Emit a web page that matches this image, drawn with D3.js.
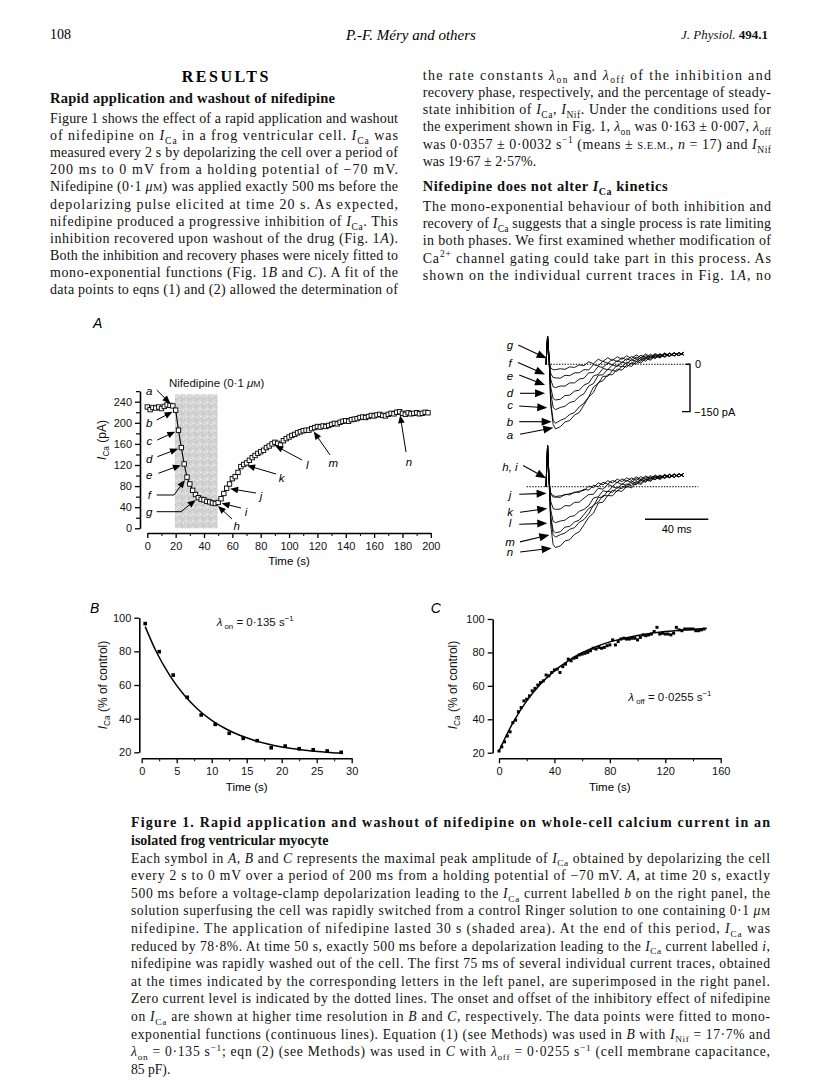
<!DOCTYPE html>
<html><head><meta charset="utf-8">
<script src="https://cdn.jsdelivr.net/npm/d3@7"></script>
<style>body{margin:0;background:#fff}svg{display:block}</style>
</head><body>
<svg id="page" width="816" height="1088"></svg>
<script>
// ---------------- DATA ----------------
const currentA = [230,225,229,228,230,227,231,234,233,232,
  224,186,153,122,97,84,72,64,58,55,54,51,50,48,47,
  49,56,66,76,84,94,98,106,117,121,124,129,134,138,142,145,148,153,156,160,163,161,158,166,170,
  173,176,178,181,183,185,186,186,189,191,193,192,194,193,195,197,199,198,201,203,204,203,206,207,208,
  210,211,210,212,214,213,215,216,214,213,216,218,217,220,221,218,216,219,217,218,219,217,218,220,219];
const timeA = d3.range(0, 200, 2);
const nifedipinePeriod = [19.5, 49.5];
const yTicksA = [0,40,80,120,160,200,240];
const xTicksA = [0,20,40,60,80,100,120,140,160,180,200];
const lettersA = ['a','b','c','d','e','f','g','h','i','j','k','l','m','n'];
const letterTimesA = [18,20,22,24,26,28,36,48,50,56,68,88,116,178];

const timeB = [0.5,2.5,4.5,6.5,8.5,10.5,12.5,14.5,16.5,18.5,20.5,22.5,24.5,26.5,28.5];
const valueB = [96.5,79.8,65.9,52.7,42.2,36.6,31.3,28.3,26.9,22.7,23.7,22.1,21.5,20.8,20];
const fitTimeB = [0.5,2,4,6,8,10,12,14,16,18,20,22,24,26,28,28.5];
const fitValueB = [94.7,80.5,65.7,54.3,45.6,39.0,34.0,30.1,27.2,24.9,23.2,21.9,20.9,20.2,19.6,19.5];
const xTicksB = [0,5,10,15,20,25,30];
const yTicksBC = [20,40,60,80,100];

const timeC = d3.range(0, 150, 2);
const valueC = [21,23.5,26.5,30,32.5,38,39.5,44.5,47,51,52,54,57,58.5,60.5,62,63,66.5,66,68,69.5,70,68,71.5,73,76,75,76.5,77,78.5,
  79,79.5,80,81,82.5,82,83,82.5,83,84,84.5,87.5,84.5,86.5,88,88.5,88,88,88.5,88.5,87.5,89,90.5,90,90.5,91,92.5,95,91,91.5,
  91,91,90.5,91.5,95,93.5,93,94,94,94,94,93,93,93.5,94];
const fitTimeC = [0,10,20,30,40,50,60,70,80,90,100,110,120,130,140,150];
const fitValueC = [21,37.9,51.0,61.1,69.0,75.0,79.8,83.4,86.3,88.4,90.1,91.5,92.5,93.3,93.9,94.4];
const xTicksC = [0,40,80,120,160];

const traceTimes = [0,1,2,3,4.5,6,9,12,15,18,21,24,27,30,33,36,39,42,45,48,51,54,57,60,63,66,69,72,75,78,81,84,87];
const tracesTop = {
  a:[0,88,12,-130,-190,-205,-198,-183,-178,-161,-153,-129, -104,-89,-58,-52,-33,-33,-15,-19,-2,-7,9,4,19,13,27,20,32,25,36,28,38],
  b:[0,88,12,-120,-177,-187,-178,-172,-159,-153,-135,-123, -103,-72,-61,-38,-38,-20,-22,-6,-9,5,1,16,10,24,18,30,22,34,26,37,29],
  c:[0,88,12,-92,-136,-144,-137,-133,-121,-117,-102,-93, -69,-61,-35,-33,-16,-19,-3,-8,7,1,16,10,23,16,29,21,33,25,36,27,38],
  d:[0,88,12,-73,-108,-113,-111,-99,-98,-85,-82,-66, -59,-37,-32,-13,-17,-2,-7,8,2,15,9,22,16,28,21,32,24,35,27,37,29],
  e:[0,88,12,-48,-71,-74,-69,-69,-59,-59,-47,-44, -27,-26,-7,-10,4,-2,12,5,18,11,23,16,28,20,32,23,35,25,37,27,38],
  f:[0,88,12,-29,-42,-43,-44,-35,-36,-27,-27,-17, -18,-1,-5,10,3,16,8,21,13,25,17,29,21,32,23,34,25,36,27,37,29],
  g:[0,88,12,-12,-17,-17,-14,-16,-8,-10,-2,-4, 8,2,16,9,21,12,24,16,27,18,30,21,33,23,34,25,36,26,37,27,38]
};
const tracesBottom = {
  h:[0,130,15,-20,-28,-31,-29,-26,-22,-19,-14,-12, 2,-3,12,6,19,12,24,16,28,20,31,23,34,26,37,28,39,30,41,31,42],
  i:[0,130,15,-22,-33,-33,-34,-24,-26,-17,-18,-8, -11,5,0,14,8,20,13,25,17,28,20,32,23,35,27,37,28,40,30,41,32],
  j:[0,130,15,-47,-69,-72,-71,-60,-61,-50,-49,-36, -25,-24,-5,-8,7,1,14,7,20,13,26,18,31,23,35,26,38,29,40,31,42],
  k:[0,130,15,-74,-110,-114,-109,-106,-95,-92,-78,-72, -60,-36,-32,-13,-16,0,-5,9,4,17,11,24,17,31,23,35,27,39,29,41,32],
  l:[0,130,15,-94,-139,-146,-143,-128,-126,-112,-106,-88, -69,-61,-34,-33,-14,-18,-2,-6,9,3,17,11,25,19,32,24,36,29,39,31,42],
  m:[0,130,15,-103,-152,-160,-152,-147,-135,-130,-113,-104, -86,-58,-49,-28,-29,-11,-15,1,-3,11,6,20,14,28,22,34,26,38,29,41,32],
  n:[0,130,15,-124,-183,-193,-188,-172,-168,-151,-143,-121, -97,-84,-52,-49,-28,-29,-12,-15,2,-4,12,7,22,17,30,23,35,28,39,31,42]
};
const topArrows = [
  {lab:'g', tail:[-17.5,61], tip:[0.4,19]},
  {lab:'f', tail:[-17.7,6], tip:[-0.6,-32]},
  {lab:'e', tail:[-16.9,-34], tip:[-0.6,-66]},
  {lab:'d', tail:[-16.4,-92], tip:[-0.6,-92]},
  {lab:'c', tail:[-16.9,-132], tip:[0.8,-138]},
  {lab:'b', tail:[-16.9,-182], tip:[3.6,-182]},
  {lab:'a', tail:[-16.4,-222], tip:[4.6,-201]}
];
const topLabelY = {g:61,f:4,e:-38,d:-92,c:-129,b:-184,a:-224};
const bottomArrows = [
  {lab:'h, i', tail:[-14.5,67], tip:[0,27]},
  {lab:'j', tail:[-16.9,-24], tip:[0.4,-21]},
  {lab:'k', tail:[-16.4,-81], tip:[0.8,-69]},
  {lab:'l', tail:[-16.9,-119], tip:[0.8,-116]},
  {lab:'m', tail:[-16.4,-175], tip:[2.1,-153]},
  {lab:'n', tail:[-16.4,-207], tip:[3.6,-195]}
];
const bottomLabelY = {'h, i':63,j:-27,k:-81,l:-116,m:-175,n:-207};

// ---------------- TEXT ----------------
const headerLeft = '108';
const headerCenter = 'P.-F. Méry and others';
const col1Lines = [
  'Figure 1 shows the effect of a rapid application and washout',
  'of nifedipine on <i>I</i><sub>Ca</sub> in a frog ventricular cell. <i>I</i><sub>Ca</sub> was',
  'measured every 2 s by depolarizing the cell over a period of',
  '200 ms to 0 mV from a holding potential of −70 mV.',
  'Nifedipine (0·1 <i>μ</i><sc>M</sc>) was applied exactly 500 ms before the',
  'depolarizing pulse elicited at time 20 s. As expected,',
  'nifedipine produced a progressive inhibition of <i>I</i><sub>Ca</sub>. This',
  'inhibition recovered upon washout of the drug (Fig. 1<i>A</i>).',
  'Both the inhibition and recovery phases were nicely fitted to',
  'mono-exponential functions (Fig. 1<i>B</i> and <i>C</i>). A fit of the',
  'data points to eqns (1) and (2) allowed the determination of'
];
const col2LinesA = [
  'the rate constants <i>λ</i><sub>on</sub> and <i>λ</i><sub>off</sub> of the inhibition and',
  'recovery phase, respectively, and the percentage of steady-',
  'state inhibition of <i>I</i><sub>Ca</sub>, <i>I</i><sub>Nif</sub>. Under the conditions used for',
  'the experiment shown in Fig. 1, <i>λ</i><sub>on</sub> was 0·163 ± 0·007, <i>λ</i><sub>off</sub>',
  'was 0·0357 ± 0·0032 s<sup>−1</sup> (means ± <sc>S.E.M.</sc>, <i>n</i> = 17) and <i>I</i><sub>Nif</sub>',
  'was 19·67 ± 2·57%.'
];
const col2LinesB = [
  'The mono-exponential behaviour of both inhibition and',
  'recovery of <i>I</i><sub>Ca</sub> suggests that a single process is rate limiting',
  'in both phases. We first examined whether modification of',
  'Ca<sup>2+</sup> channel gating could take part in this process. As',
  'shown on the individual current traces in Fig. 1<i>A</i>, no'
];
const captionTitle = [
  'Figure 1. Rapid application and washout of nifedipine on whole-cell calcium current in an',
  'isolated frog ventricular myocyte'
];
const captionLines = [
  'Each symbol in <i>A</i>, <i>B</i> and <i>C</i> represents the maximal peak amplitude of <i>I</i><sub>Ca</sub> obtained by depolarizing the cell',
  'every 2 s to 0 mV over a period of 200 ms from a holding potential of −70 mV. <i>A</i>, at time 20 s, exactly',
  '500 ms before a voltage-clamp depolarization leading to the <i>I</i><sub>Ca</sub> current labelled <i>b</i> on the right panel, the',
  'solution superfusing the cell was rapidly switched from a control Ringer solution to one containing 0·1 <i>μ</i><sc>M</sc>',
  'nifedipine. The application of nifedipine lasted 30 s (shaded area). At the end of this period, <i>I</i><sub>Ca</sub> was',
  'reduced by 78·8%. At time 50 s, exactly 500 ms before a depolarization leading to the <i>I</i><sub>Ca</sub> current labelled <i>i</i>,',
  'nifedipine was rapidly washed out of the cell. The first 75 ms of several individual current traces, obtained',
  'at the times indicated by the corresponding letters in the left panel, are superimposed in the right panel.',
  'Zero current level is indicated by the dotted lines. The onset and offset of the inhibitory effect of nifedipine',
  'on <i>I</i><sub>Ca</sub> are shown at higher time resolution in <i>B</i> and <i>C</i>, respectively. The data points were fitted to mono-',
  'exponential functions (continuous lines). Equation (1) (see Methods) was used in <i>B</i> with <i>I</i><sub>Nif</sub> = 17·7% and',
  '<i>λ</i><sub>on</sub> = 0·135 s<sup>−1</sup>; eqn (2) (see Methods) was used in <i>C</i> with <i>λ</i><sub>off</sub> = 0·0255 s<sup>−1</sup> (cell membrane capacitance,',
  '85 pF).'
];

// ---------------- HELPERS ----------------
const SERIF = "'Liberation Serif','Times New Roman',serif";
const SANS = "'Liberation Sans',Arial,Helvetica,sans-serif";
const svg = d3.select('#page');
svg.append('rect').attr('width',816).attr('height',1088).attr('fill','#fff');

function rich(parent, x, y, str, o) {
  const size = o.size;
  const t = parent.append('text').attr('x', x).attr('y', y)
    .attr('font-family', o.family).attr('font-size', size).attr('fill', o.fill || '#111');
  if (o.weight) t.attr('font-weight', o.weight);
  if (o.style) t.attr('font-style', o.style);
  if (o.anchor) t.attr('text-anchor', o.anchor);
  if (o.transform) t.attr('transform', o.transform);
  const parts = str.split(/(<\/?(?:i|b|sub|sup|sc)>)/);
  const st = {i:false,b:false,sub:false,sup:false,sc:false};
  let shift = 0;
  parts.forEach(p => {
    if (!p) return;
    const m = p.match(/^<(\/?)(i|b|sub|sup|sc)>$/);
    if (m) { st[m[2]] = !m[1]; return; }
    const target = st.sub ? size*0.28 : st.sup ? -size*0.38 : 0;
    const ts = t.append('tspan').text(p);
    if (Math.abs(target - shift) > 0.01) { ts.attr('dy', target - shift); shift = target; }
    if (st.i) ts.attr('font-style','italic');
    if (st.b) ts.attr('font-weight','bold');
    if (st.sub || st.sup) ts.attr('font-size', size*0.68);
    else if (st.sc) ts.attr('font-size', size*0.75);
  });
  if (o.width) t.attr('textLength', o.width).attr('lengthAdjust','spacing');
  return t;
}

function arrow(g, pts, headLen, headW, sw) {
  const n = pts.length;
  const [x2,y2] = pts[n-1], [x1,y1] = pts[n-2];
  const dx = x2-x1, dy = y2-y1, L = Math.hypot(dx,dy), ux = dx/L, uy = dy/L;
  const bx = x2-ux*headLen, by = y2-uy*headLen;
  const lp = pts.slice(0,n-1).concat([[bx+ux*1,by+uy*1]]);
  g.append('path').attr('d', d3.line()(lp)).attr('fill','none').attr('stroke','#000').attr('stroke-width',sw);
  g.append('path').attr('d', `M${x2},${y2}L${bx-uy*headW},${by+ux*headW}L${bx+uy*headW},${by-ux*headW}Z`).attr('fill','#000');
}

function styleAxis(g) {
  g.select('.domain').attr('stroke','#000').attr('stroke-width',1.6);
  g.selectAll('.tick line').attr('stroke','#000').attr('stroke-width',1.3);
  g.selectAll('.tick text').attr('font-family',SANS).attr('font-size',11).attr('fill','#111');
}

// ---------------- PAGE TEXT ----------------
svg.append('text').attr('x',50).attr('y',39).attr('font-family',SERIF).attr('font-size',14).text(headerLeft);
svg.append('text').attr('x',411).attr('y',40).attr('text-anchor','middle').attr('font-family',SERIF)
  .attr('font-size',15).attr('font-style','italic').text(headerCenter);
rich(svg, 768, 39, '<i>J. Physiol.</i> <b>494.1</b>', {family:SERIF, size:13, anchor:'end'});

svg.append('text').attr('x',181.7).attr('y',82).attr('font-family',SERIF).attr('font-size',16)
  .attr('font-weight','bold').attr('textLength',86.6).attr('lengthAdjust','spacing').text('RESULTS');
rich(svg, 50, 103, '<b>Rapid application and washout of nifedipine</b>', {family:SERIF, size:14.5, width:285});

col1Lines.forEach((s,i) => rich(svg, 50, 122.8 + i*17.15, s, {family:SERIF, size:14, width:348}));
col2LinesA.forEach((s,i) => rich(svg, 422.7, 79.5 + i*17.3, s,
  {family:SERIF, size:14, width: i === col2LinesA.length-1 ? null : 348.3}));
rich(svg, 422.7, 191, '<b>Nifedipine does not alter </b><b><i>I</i></b><b><sub>Ca</sub></b><b> kinetics</b>',
  {family:SERIF, size:14.5, width:245});
col2LinesB.forEach((s,i) => rich(svg, 422.7, 210.5 + i*17.4, s, {family:SERIF, size:14, width:348.3}));

captionTitle.forEach((s,i) => rich(svg, 131, 826.5 + i*18, '<b>'+s+'</b>',
  {family:SERIF, size:14, width: i===0 ? 639 : null}));
captionLines.forEach((s,i) => rich(svg, 131, 862.5 + i*17.6, s,
  {family:SERIF, size:13.6, width: i === captionLines.length-1 ? null : 639}));

// ---------------- PANEL A ----------------
const gA = svg.append('g');
const xA = d3.scaleLinear().domain([0,200]).range([147.3,430.8]);
const yA = d3.scaleLinear().domain([0,260]).range([528.3,391.15]);

const defs = svg.append('defs');
const pat = defs.append('pattern').attr('id','stip').attr('width',7).attr('height',7).attr('patternUnits','userSpaceOnUse');
pat.append('rect').attr('width',7).attr('height',7).attr('fill','#d4d4d4');
[[0,0,'#b8b8b8'],[3,2,'#e9e9e9'],[5,5,'#bdbdbd'],[1,4,'#ededed'],[6,1,'#c4c4c4'],[2,6,'#c6c6c6'],[4,3,'#f2f2f2']]
  .forEach(([x,y,c]) => pat.append('rect').attr('x',x).attr('y',y).attr('width',1.2).attr('height',1.2).attr('fill',c));
gA.append('rect').attr('x',xA(nifedipinePeriod[0])).attr('width',xA(nifedipinePeriod[1])-xA(nifedipinePeriod[0]))
  .attr('y',yA(254)).attr('height',yA(0)-yA(254)).attr('fill','url(#stip)');

rich(gA, 169, 387, 'Nifedipine (0·1 <i>μ</i><sc>M</sc>)', {family:SANS, size:11.5});

const yAxA = gA.append('g').attr('transform','translate(140,0)')
  .call(d3.axisLeft(yA).tickValues(yTicksA).tickSize(5).tickSizeOuter(0).tickPadding(3));
styleAxis(yAxA);
gA.append('g').attr('transform','translate(140,0)')
  .call(d3.axisLeft(yA).tickValues(d3.range(20,261,40)).tickSize(4).tickFormat('').tickSizeOuter(0))
  .call(g => { g.select('.domain').remove(); g.selectAll('line').attr('stroke','#000').attr('stroke-width',1.2); });
const xAxA = gA.append('g').attr('transform','translate(0,533)')
  .call(d3.axisBottom(xA).tickValues(xTicksA).tickSize(5).tickSizeOuter(0).tickPadding(4));
styleAxis(xAxA);
gA.append('g').attr('transform','translate(0,533)')
  .call(d3.axisBottom(xA).tickValues(d3.range(10,200,20)).tickSize(3).tickFormat('').tickSizeOuter(0))
  .call(g => { g.select('.domain').remove(); g.selectAll('line').attr('stroke','#000').attr('stroke-width',1); });

gA.append('text').attr('x',xA(100)).attr('y',564.5).attr('text-anchor','middle').attr('font-family',SANS)
  .attr('font-size',11.5).text('Time (s)');
rich(gA, 0, 0, '<i>I</i><sub>Ca</sub>  (pA)', {family:SANS, size:12, anchor:'middle', transform:'translate(106,440) rotate(-90)'});
gA.append('text').attr('x',93).attr('y',328).attr('font-family',SANS).attr('font-size',14)
  .attr('font-style','italic').text('A');

const ptsA = timeA.map((t,i) => [xA(t), yA(currentA[i])]);
gA.append('path').attr('d', d3.line()(ptsA)).attr('fill','none').attr('stroke','#000').attr('stroke-width',1.1);
gA.selectAll('rect.mk').data(ptsA).join('rect').attr('class','mk')
  .attr('x',d=>d[0]-2.2).attr('y',d=>d[1]-2.2).attr('width',4.4).attr('height',4.4)
  .attr('fill','#fff').attr('stroke','#000').attr('stroke-width',0.9);

const letterLayoutA = {
  a:{lx:149.3, ly:394.5, tail:[[156.7,390]]},
  b:{lx:149.3, ly:427.3, tail:[[156.7,420]]},
  c:{lx:149.3, ly:445, tail:[[157.3,440]]},
  d:{lx:149.3, ly:463, tail:[[157.3,456.7]]},
  e:{lx:149.3, ly:479, tail:[[158.3,473.3]]},
  f:{lx:149.3, ly:499, tail:[[156.7,495],[174,495]]},
  g:{lx:149.3, ly:515.7, tail:[[156.7,511.7],[181,511.7]]},
  h:{lx:236.7, ly:530, tail:[[232,519]]},
  i:{lx:246, ly:516, tail:[[241,508]]},
  j:{lx:261, ly:500, tail:[[256,493]]},
  k:{lx:281.7, ly:482.3, tail:[[276,474]]},
  l:{lx:307.3, ly:469, tail:[[302,460]]},
  m:{lx:333.3, ly:467.3, tail:[[330,455]]},
  n:{lx:409, ly:466, tail:[[406,452]]}
};
lettersA.forEach((lab,i) => {
  const L = letterLayoutA[lab];
  const t = letterTimesA[i];
  const v = currentA[timeA.indexOf(t)];
  const P = [xA(t), yA(v)];
  const last = L.tail[L.tail.length-1];
  const dx = P[0]-last[0], dy = P[1]-last[1], len = Math.hypot(dx,dy);
  const tip = [P[0]-dx/len*3.5, P[1]-dy/len*3.5];
  arrow(gA, L.tail.concat([tip]), 8, 3.3, 1);
  gA.append('text').attr('x',L.lx).attr('y',L.ly).attr('text-anchor','middle').attr('font-family',SANS)
    .attr('font-size',11.5).attr('font-style','italic').text(lab);
});

// ---------------- CURRENT TRACES ----------------
const gT = svg.append('g');
const xT = d3.scaleLinear().domain([0,87]).range([546,683.7]);
const yTop = d3.scaleLinear().domain([0,-150]).range([364.3,411.6]);
const yBot = d3.scaleLinear().domain([0,-150]).range([486.7,534.0]);

gT.append('line').attr('x1',545).attr('x2',690).attr('y1',yTop(0)).attr('y2',yTop(0))
  .attr('stroke','#000').attr('stroke-width',1.1).attr('stroke-dasharray','1.4,1.4');
gT.append('line').attr('x1',526.7).attr('x2',698.3).attr('y1',yBot(0)).attr('y2',yBot(0))
  .attr('stroke','#000').attr('stroke-width',1.1).attr('stroke-dasharray','1.4,1.4');

function drawTraces(set, yS) {
  Object.keys(set).forEach(k => {
    const line = d3.line().x((d,i)=>xT(traceTimes[i])).y(d=>yS(d));
    gT.append('path').attr('d', line(set[k])).attr('fill','none').attr('stroke','#000').attr('stroke-width',0.9);
  });
}
drawTraces(tracesTop, yTop);
drawTraces(tracesBottom, yBot);

topArrows.forEach(a => {
  arrow(gT, [[xT(a.tail[0]), yTop(a.tail[1])],[xT(a.tip[0]), yTop(a.tip[1])]], 10, 4, 1.1);
  gT.append('text').attr('x',510).attr('y',yTop(topLabelY[a.lab])+4).attr('text-anchor','middle')
    .attr('font-family',SANS).attr('font-size',11.5).attr('font-style','italic').text(a.lab);
});
bottomArrows.forEach(a => {
  arrow(gT, [[xT(a.tail[0]), yBot(a.tail[1])],[xT(a.tip[0]), yBot(a.tip[1])]], 10, 4, 1.1);
  gT.append('text').attr('x',510).attr('y',yBot(bottomLabelY[a.lab])+4).attr('text-anchor','middle')
    .attr('font-family',SANS).attr('font-size',11.5).attr('font-style','italic').text(a.lab);
});

gT.append('path').attr('d', `M686,${yTop(0)}H690V${yTop(-150)}H682`).attr('fill','none').attr('stroke','#000').attr('stroke-width',1.4);
gT.append('text').attr('x',695).attr('y',yTop(0)+4).attr('font-family',SANS).attr('font-size',11).text('0');
gT.append('text').attr('x',694).attr('y',yTop(-150)+4).attr('font-family',SANS).attr('font-size',11).text('−150 pA');
gT.append('line').attr('x1',645).attr('x2',645 + (xT(40)-xT(0))).attr('y1',519.3).attr('y2',519.3)
  .attr('stroke','#000').attr('stroke-width',1.4);
gT.append('text').attr('x',645 + (xT(40)-xT(0))/2).attr('y',532.5).attr('text-anchor','middle')
  .attr('font-family',SANS).attr('font-size',11).text('40 ms');

// ---------------- PANEL B ----------------
const gB = svg.append('g');
const xB = d3.scaleLinear().domain([0,30]).range([141.7,351.7]);
const yB = d3.scaleLinear().domain([20,100]).range([752.3,617.7]);
styleAxis(gB.append('g').attr('transform','translate(139.3,0)')
  .call(d3.axisLeft(yB).tickValues(yTicksBC).tickSize(5).tickSizeOuter(0).tickPadding(3)));
styleAxis(gB.append('g').attr('transform','translate(0,758.3)')
  .call(d3.axisBottom(xB).tickValues(xTicksB).tickSize(5).tickSizeOuter(0).tickPadding(4)));
gB.append('g').attr('transform','translate(0,758.3)')
  .call(d3.axisBottom(xB).tickValues(d3.range(2.5,30,5)).tickSize(3).tickFormat('').tickSizeOuter(0))
  .call(g => { g.select('.domain').remove(); g.selectAll('line').attr('stroke','#000').attr('stroke-width',1); });
gB.append('text').attr('x',xB(15)).attr('y',790.5).attr('text-anchor','middle').attr('font-family',SANS)
  .attr('font-size',11.5).text('Time (s)');
rich(gB, 0, 0, '<i>I</i><sub>Ca</sub>  (% of control)', {family:SANS, size:12, anchor:'middle', transform:'translate(107,685) rotate(-90)'});
gB.append('text').attr('x',90).attr('y',613).attr('font-family',SANS).attr('font-size',14).attr('font-style','italic').text('B');
gB.append('path').attr('d', d3.line().curve(d3.curveMonotoneX).x((d,i)=>xB(fitTimeB[i])).y(d=>yB(d))(fitValueB))
  .attr('fill','none').attr('stroke','#000').attr('stroke-width',1.5);
gB.selectAll('rect.pt').data(valueB).join('rect').attr('class','pt')
  .attr('x',(d,i)=>xB(timeB[i])-1.8).attr('y',d=>yB(d)-1.8).attr('width',3.6).attr('height',3.6).attr('fill','#000');
rich(gB, 216.7, 625.5, '<i>λ</i><sub> on</sub> = 0·135 s<sup>−1</sup>', {family:SANS, size:11.5});

// ---------------- PANEL C ----------------
const gC = svg.append('g');
const xC = d3.scaleLinear().domain([0,160]).range([499,720.7]);
const yC = d3.scaleLinear().domain([20,100]).range([752.7,619]);
styleAxis(gC.append('g').attr('transform','translate(492.7,0)')
  .call(d3.axisLeft(yC).tickValues(yTicksBC).tickSize(5).tickSizeOuter(0).tickPadding(3)));
styleAxis(gC.append('g').attr('transform','translate(0,758.3)')
  .call(d3.axisBottom(xC).tickValues(xTicksC).tickSize(5).tickSizeOuter(0).tickPadding(4)));
gC.append('g').attr('transform','translate(0,758.3)')
  .call(d3.axisBottom(xC).tickValues(d3.range(20,160,40)).tickSize(3).tickFormat('').tickSizeOuter(0))
  .call(g => { g.select('.domain').remove(); g.selectAll('line').attr('stroke','#000').attr('stroke-width',1); });
gC.append('text').attr('x',xC(80)).attr('y',790.5).attr('text-anchor','middle').attr('font-family',SANS)
  .attr('font-size',11.5).text('Time (s)');
rich(gC, 0, 0, '<i>I</i><sub>Ca</sub>  (% of control)', {family:SANS, size:12, anchor:'middle', transform:'translate(457,685) rotate(-90)'});
gC.append('text').attr('x',430.7).attr('y',613).attr('font-family',SANS).attr('font-size',14).attr('font-style','italic').text('C');
gC.append('path').attr('d', d3.line().curve(d3.curveMonotoneX).x((d,i)=>xC(fitTimeC[i])).y(d=>yC(d))(fitValueC))
  .attr('fill','none').attr('stroke','#000').attr('stroke-width',1.5);
gC.selectAll('rect.pt').data(valueC).join('rect').attr('class','pt')
  .attr('x',(d,i)=>xC(timeC[i])-1.5).attr('y',d=>yC(d)-1.5).attr('width',3).attr('height',3).attr('fill','#000');
rich(gC, 628.3, 700.5, '<i>λ</i><sub> off</sub> = 0·0255 s<sup>−1</sup>', {family:SANS, size:11.5});
</script>
</body></html>
